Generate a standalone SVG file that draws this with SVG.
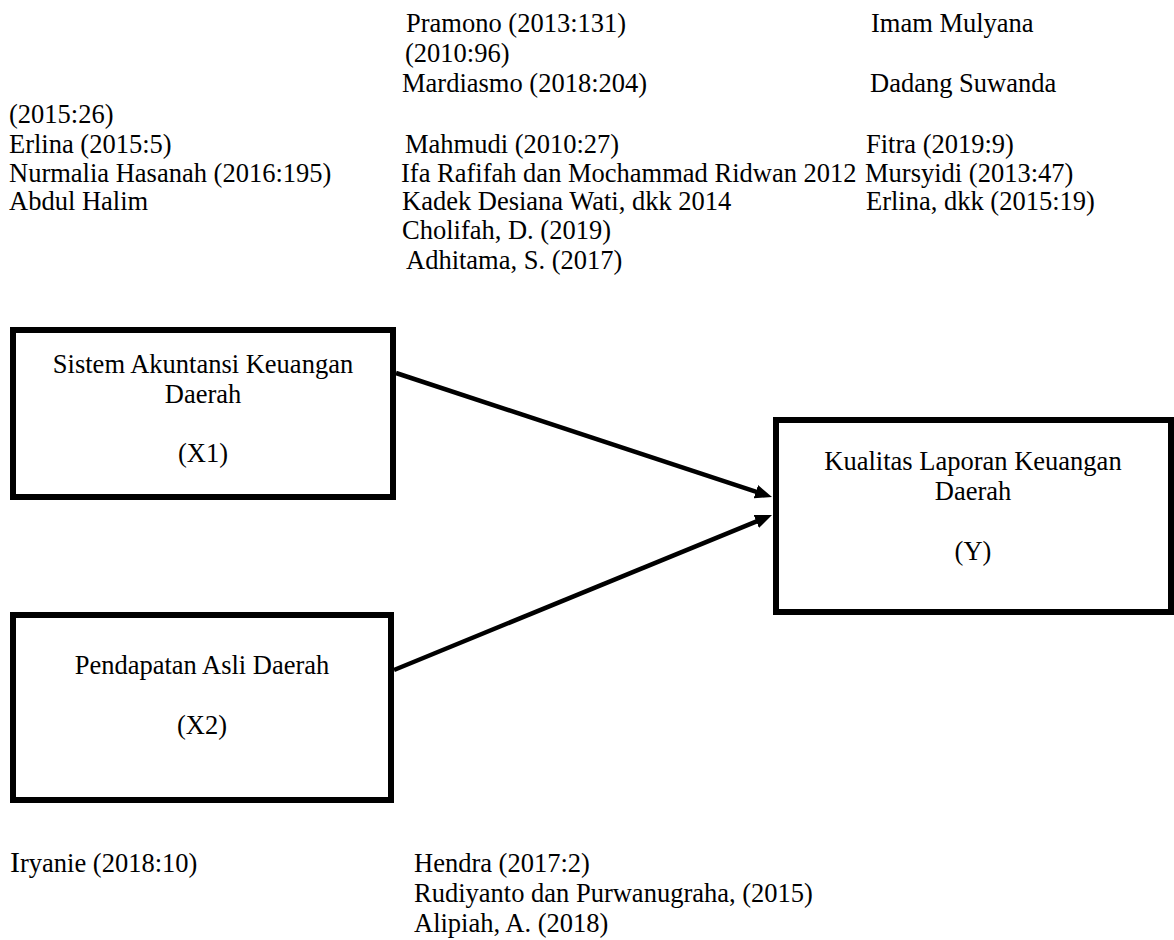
<svg xmlns="http://www.w3.org/2000/svg" width="1174" height="940" viewBox="0 0 1174 940">
<style>
text{font-family:"Liberation Serif","Times New Roman",serif;font-size:26.5px;fill:#000}
.c{text-anchor:middle}
.box{fill:#fff;stroke:#000;stroke-width:6}
.edge{stroke:#000;stroke-width:4.5;fill:none}
</style>
<defs>
<marker id="ah" viewBox="0 0 17 14" refX="7" refY="7" markerWidth="17" markerHeight="14" markerUnits="userSpaceOnUse" orient="auto">
<path d="M0,0 L17,7 L0,14 z" fill="#000"/>
</marker>
</defs>
<rect width="1174" height="940" fill="#fff"/>
<g id="refs-top">
<text x="406" y="32">Pramono (2013:131)</text>
<text x="871" y="32">Imam Mulyana</text>
<text x="405" y="62">(2010:96)</text>
<text x="402" y="92">Mardiasmo (2018:204)</text>
<text x="870" y="92">Dadang Suwanda</text>
<text x="9" y="123">(2015:26)</text>
<text x="9" y="153">Erlina (2015:5)</text>
<text x="405" y="153">Mahmudi (2010:27)</text>
<text x="866" y="153">Fitra (2019:9)</text>
<text x="9" y="182">Nurmalia Hasanah (2016:195)</text>
<text x="401" y="182">Ifa Rafifah dan Mochammad Ridwan 2012</text>
<text x="865" y="182">Mursyidi (2013:47)</text>
<text x="9" y="210">Abdul Halim</text>
<text x="402" y="210">Kadek Desiana Wati, dkk 2014</text>
<text x="866" y="210">Erlina, dkk (2015:19)</text>
<text x="402" y="239">Cholifah, D. (2019)</text>
<text x="406" y="269">Adhitama, S. (2017)</text>
</g>
<g id="connectors">
<line class="edge" x1="396" y1="373" x2="762.5" y2="493.9" marker-end="url(#ah)"/>
<line class="edge" x1="394" y1="670" x2="762.75" y2="518.8" marker-end="url(#ah)"/>
</g>
<g id="node-x1">
<rect class="box" x="13" y="330" width="380" height="167"/>
<text class="c" x="203" y="373">Sistem Akuntansi Keuangan</text>
<text class="c" x="203" y="403">Daerah</text>
<text class="c" x="203" y="462">(X1)</text>
</g>
<g id="node-x2">
<rect class="box" x="13" y="615" width="378" height="185"/>
<text class="c" x="202" y="674">Pendapatan Asli Daerah</text>
<text class="c" x="202" y="734">(X2)</text>
</g>
<g id="node-y">
<rect class="box" x="776" y="420" width="395" height="192"/>
<text class="c" x="973" y="470">Kualitas Laporan Keuangan</text>
<text class="c" x="973" y="500">Daerah</text>
<text class="c" x="973" y="560">(Y)</text>
</g>
<g id="refs-bottom">
<text x="10" y="872"><tspan font-size="30">I</tspan>ryanie (2018:10)</text>
<text x="414" y="872">Hendra (2017:2)</text>
<text x="414" y="902">Rudiyanto dan Purwanugraha, (2015)</text>
<text x="414" y="932">Alipiah, A. (2018)</text>
</g>
</svg>
